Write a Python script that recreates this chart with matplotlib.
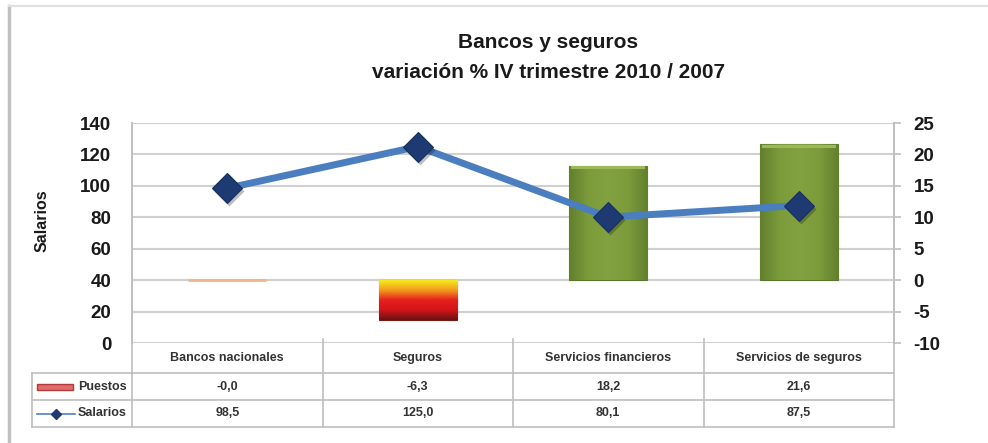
import numpy as np
import matplotlib
matplotlib.use("Agg")
import matplotlib.pyplot as plt
from matplotlib.lines import Line2D
from matplotlib.patches import Rectangle
from matplotlib.colors import LinearSegmentedColormap

plt.rcParams['font.family'] = ['Liberation Sans', 'DejaVu Sans']
plt.rcParams['font.weight'] = 'bold'
plt.rcParams['axes.unicode_minus'] = False

# datos
categorias = ['Bancos nacionales', 'Seguros', 'Servicios financieros', 'Servicios de seguros']
puestos = [-0.0, -6.3, 18.2, 21.6]
salarios = [98.5, 125.0, 80.1, 87.5]
puestos_txt = ['-0,0', '-6,3', '18,2', '21,6']
salarios_txt = ['98,5', '125,0', '80,1', '87,5']

GRID = '#d0d0d0'
BORDE = '#bfbfbf'
TXT = '#1a1a1a'

fig = plt.figure(figsize=(9.88, 4.43), dpi=100)
fig.patch.set_facecolor('white')

# marco del grafico
fig.add_artist(Line2D([9 / 988, 9 / 988], [0, 1 - 6 / 443], color=BORDE, lw=2.5))
fig.add_artist(Line2D([9 / 988, 1], [1 - 6 / 443, 1 - 6 / 443], color='#e0e0e0', lw=1.5))

ax2 = fig.add_axes([132 / 988, 1 - 343 / 443, 762 / 988, 220 / 443])
ax = ax2.twinx()
ax.set_zorder(ax2.get_zorder() + 1)
ax.patch.set_visible(False)

x = np.arange(len(categorias))
ancho = 0.41

# barras (eje derecho)
ax2.set_yticks(np.arange(-10, 26, 5))
ax2.yaxis.tick_right()
ax2.grid(axis='y', color=GRID, lw=1.5, zorder=0)
ax2.set_axisbelow(True)

barras = ax2.bar(x, puestos, width=ancho, zorder=2)
# Bancos nacionales: valor nulo -> linea fina
barras[0].set_facecolor('none')
barras[0].set_edgecolor('#f2b48a')
barras[0].set_linewidth(2)

# Seguros: degradado amarillo -> rojo
cmap = LinearSegmentedColormap.from_list('fuego', ['#f7ea1c', '#f29a1e', '#e5201e', '#d41518', '#6b1212'])
b = barras[1]
b.set_facecolor('none')
b.set_edgecolor('#7a1a14')
b.set_linewidth(0.8)
grad = np.linspace(0, 1, 100).reshape(-1, 1)
im = ax2.imshow(grad, cmap=cmap, aspect='auto', zorder=2,
                extent=[b.get_x(), b.get_x() + b.get_width(), b.get_y() + b.get_height(), b.get_y()])
im.set_clip_path(b)

# servicios: verde
gcmap = LinearSegmentedColormap.from_list('verde', ['#62802c', '#7c9c3c', '#82a241', '#7c9c3c', '#62802c'])
for b in barras[2:]:
    b.set_facecolor('none')
    b.set_edgecolor('#5a7628')
    b.set_linewidth(0.8)
    hgrad = np.linspace(0, 1, 100).reshape(1, -1)
    im = ax2.imshow(hgrad, cmap=gcmap, aspect='auto', zorder=2,
                    extent=[b.get_x(), b.get_x() + b.get_width(), b.get_y(), b.get_y() + b.get_height()])
    im.set_clip_path(b)
    ax2.add_patch(Rectangle((b.get_x() + 0.01, b.get_height() - 0.5), b.get_width() - 0.02, 0.45,
                            facecolor='#9cb95a', edgecolor='none', zorder=3))
ax2.set_xlim(-0.5, 3.5)
ax2.set_ylim(-10, 25)

# linea (eje izquierdo)
ax.plot(x, salarios, color='#4a7ebf', lw=5, solid_joinstyle='round', zorder=3)
ax.plot(x + 0.01, np.array(salarios) - 2, 'D', ms=15, color='#000000', alpha=0.25, mec='none', zorder=3)
ax.plot(x, salarios, 'D', ms=15, color='#1d3a72', mec='#16305e', mew=0.8, zorder=4)
ax.set_ylim(0, 140)
ax.set_yticks(np.arange(0, 141, 20))
ax.yaxis.tick_left()
ax.set_xlim(-0.5, 3.5)
ax.set_xticks([])
ax2.set_xticks([])

for a in (ax, ax2):
    for s in ('top', 'bottom'):
        a.spines[s].set_visible(False)
    a.spines['left'].set_color(BORDE)
    a.spines['right'].set_color(BORDE)
    a.spines['left'].set_linewidth(1.2)
    a.spines['right'].set_linewidth(1.2)

ax.tick_params(axis='y', length=0, pad=15, labelsize=13.5, labelcolor=TXT)
ax2.tick_params(axis='y', length=5, width=1.2, color=BORDE, pad=9, labelsize=13.5, labelcolor=TXT)
for lbl in ax.get_yticklabels() + ax2.get_yticklabels():
    lbl.set_fontweight('bold')

fig.text(42 / 988, 1 - 221 / 443, 'Salarios', rotation=90, ha='center', va='center',
         fontsize=11.5, fontweight='bold', color=TXT)

# titulo
fig.text(548 / 988, 1 - 42 / 443, 'Bancos y seguros', ha='center', va='center',
         fontsize=15, fontweight='bold', color=TXT)
fig.text(548 / 988, 1 - 72 / 443, 'variación % IV trimestre 2010 / 2007', ha='center', va='center',
         fontsize=15, fontweight='bold', color=TXT)

# tabla de datos
tr = ax2.transAxes
h = 220.0
y_hdr = -30 / h
y_r1 = -57 / h
y_r2 = -84 / h
x_ley = -100 / 762.0
kw = dict(transform=tr, color=BORDE, lw=1.2, clip_on=False)
ax2.add_line(Line2D([0, 0], [0, y_hdr], **kw))
ax2.add_line(Line2D([1, 1], [0, y_r2], **kw))
ax2.add_line(Line2D([x_ley, 1], [y_hdr, y_hdr], **kw))
ax2.add_line(Line2D([x_ley, 1], [y_r1, y_r1], **kw))
ax2.add_line(Line2D([x_ley, 1], [y_r2, y_r2], **kw))
ax2.add_line(Line2D([x_ley, x_ley], [y_hdr, y_r2], **kw))
ax2.add_line(Line2D([0, 0], [y_hdr, y_r2], **kw))
for i in range(1, len(categorias)):
    ax2.add_line(Line2D([i / 4, i / 4], [0.02, y_r2], **kw))

fs_tab = 9
for i, c in enumerate(categorias):
    xc = (i + 0.5) / len(categorias)
    ax2.text(xc, y_hdr / 2, c, transform=tr, ha='center', va='center', fontsize=fs_tab,
             fontweight='bold', color='#333333')
    ax2.text(xc, (y_hdr + y_r1) / 2, puestos_txt[i], transform=tr, ha='center', va='center',
             fontsize=fs_tab, fontweight='bold', color='#333333')
    ax2.text(xc, (y_r1 + y_r2) / 2, salarios_txt[i], transform=tr, ha='center', va='center',
             fontsize=fs_tab, fontweight='bold', color='#333333')

# claves de leyenda en la tabla
ax2.text(-5 / 762, (y_hdr + y_r1) / 2, 'Puestos', transform=tr, ha='right', va='center',
         fontsize=fs_tab, fontweight='bold', color='#333333')
ax2.text(-5 / 762, (y_r1 + y_r2) / 2, 'Salarios', transform=tr, ha='right', va='center',
         fontsize=fs_tab, fontweight='bold', color='#333333')
ax2.add_patch(Rectangle((-95 / 762, (y_hdr + y_r1) / 2 - 3 / h), 36 / 762, 6 / h, transform=tr,
                        facecolor='#e06b6b', edgecolor='#b23a3a', lw=1, clip_on=False))
ax2.add_line(Line2D([-95 / 762, -57 / 762], [(y_r1 + y_r2) / 2] * 2, transform=tr,
                    color='#4f81bd', lw=1.2, clip_on=False))
ax2.add_line(Line2D([-76 / 762], [(y_r1 + y_r2) / 2], transform=tr, marker='D', ms=5,
                    color='#1d3a72', clip_on=False))

fig.savefig('out.png', dpi=100, facecolor='white')
